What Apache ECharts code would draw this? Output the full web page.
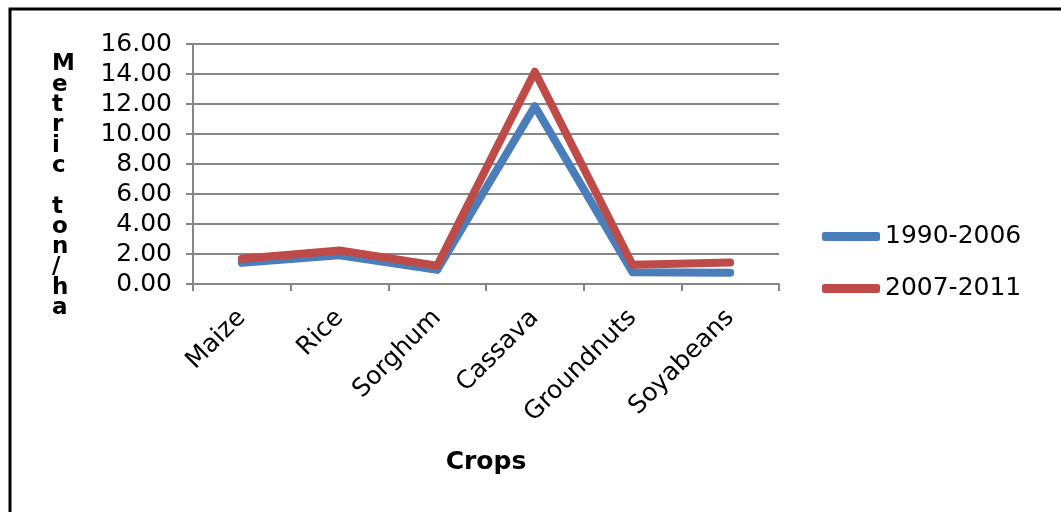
<!DOCTYPE html>
<html>
<head>
<meta charset="utf-8">
<script src="https://cdn.jsdelivr.net/npm/echarts@6/dist/echarts.min.js"></script>
<style>
html,body{margin:0;padding:0;background:#fff;}
#chart{width:1061px;height:512px;}
</style>
</head>
<body>
<div id="chart"></div>
<script>
const categories = ['Maize', 'Rice', 'Sorghum', 'Cassava', 'Groundnuts', 'Soyabeans'];
const series1990_2006 = [1.41, 1.92, 0.94, 11.85, 0.79, 0.75];
const series2007_2011 = [1.68, 2.24, 1.22, 14.15, 1.28, 1.43];
const seriesNames = ['1990-2006', '2007-2011'];
const yTitle = 'Metric ton/ha';
const xTitle = 'Crops';

const FONT = '"DejaVu Sans", Verdana, sans-serif';
const GRAY = '#868686';

const chart = echarts.init(document.getElementById('chart'));
chart.setOption({
  animation: false,
  backgroundColor: '#fff',
  grid: { left: 193, right: 282, top: 44, bottom: 228 },
  legend: {
    orient: 'vertical',
    left: 822,
    top: 224,
    padding: 0,
    itemWidth: 58,
    itemHeight: 9,
    itemGap: 27,
    icon: 'roundRect',
    textStyle: { fontFamily: FONT, fontSize: 25, color: '#000' },
    data: seriesNames
  },
  xAxis: {
    type: 'category',
    data: categories,
    boundaryGap: true,
    name: xTitle,
    nameLocation: 'middle',
    nameGap: 166,
    nameTextStyle: { fontFamily: FONT, fontSize: 25, fontWeight: 'bold', color: '#000' },
    axisLine: { lineStyle: { color: GRAY, width: 2 } },
    axisTick: { show: true, length: 7, lineStyle: { color: GRAY, width: 2 } },
    axisLabel: { rotate: 45, fontFamily: FONT, fontSize: 25, color: '#000', margin: 30, interval: 0 }
  },
  yAxis: {
    type: 'value',
    min: 0, max: 16, interval: 2,
    axisLine: { show: true, lineStyle: { color: GRAY, width: 2 } },
    axisTick: { show: true, length: 7, lineStyle: { color: GRAY, width: 2 } },
    axisLabel: { fontFamily: FONT, fontSize: 25, color: '#000', margin: 21, formatter: v => v.toFixed(2) },
    splitLine: { show: true, lineStyle: { color: GRAY, width: 2 } }
  },
  series: [
    {
      name: seriesNames[0], type: 'line', data: series1990_2006,
      showSymbol: false, symbol: 'none', color: '#4A7EBB',
      lineStyle: { width: 8, color: '#4A7EBB', cap: 'round', join: 'round' }
    },
    {
      name: seriesNames[1], type: 'line', data: series2007_2011,
      showSymbol: false, symbol: 'none', color: '#BE4B48',
      lineStyle: { width: 8, color: '#BE4B48', cap: 'round', join: 'round' }
    }
  ],
  graphic: [
    {
      type: 'rect', silent: true,
      shape: { x: 10, y: 9, width: 1200, height: 700 },
      style: { fill: 'none', stroke: '#000', lineWidth: 3 }
    },
    {
      type: 'text', silent: true,
      left: 52, top: 53,
      style: {
        text: yTitle.split('').join('\n'),
        font: 'bold 23px ' + FONT,
        fill: '#000',
        align: 'center',
        lineHeight: 20.3
      }
    }
  ]
});
</script>
</body>
</html>
